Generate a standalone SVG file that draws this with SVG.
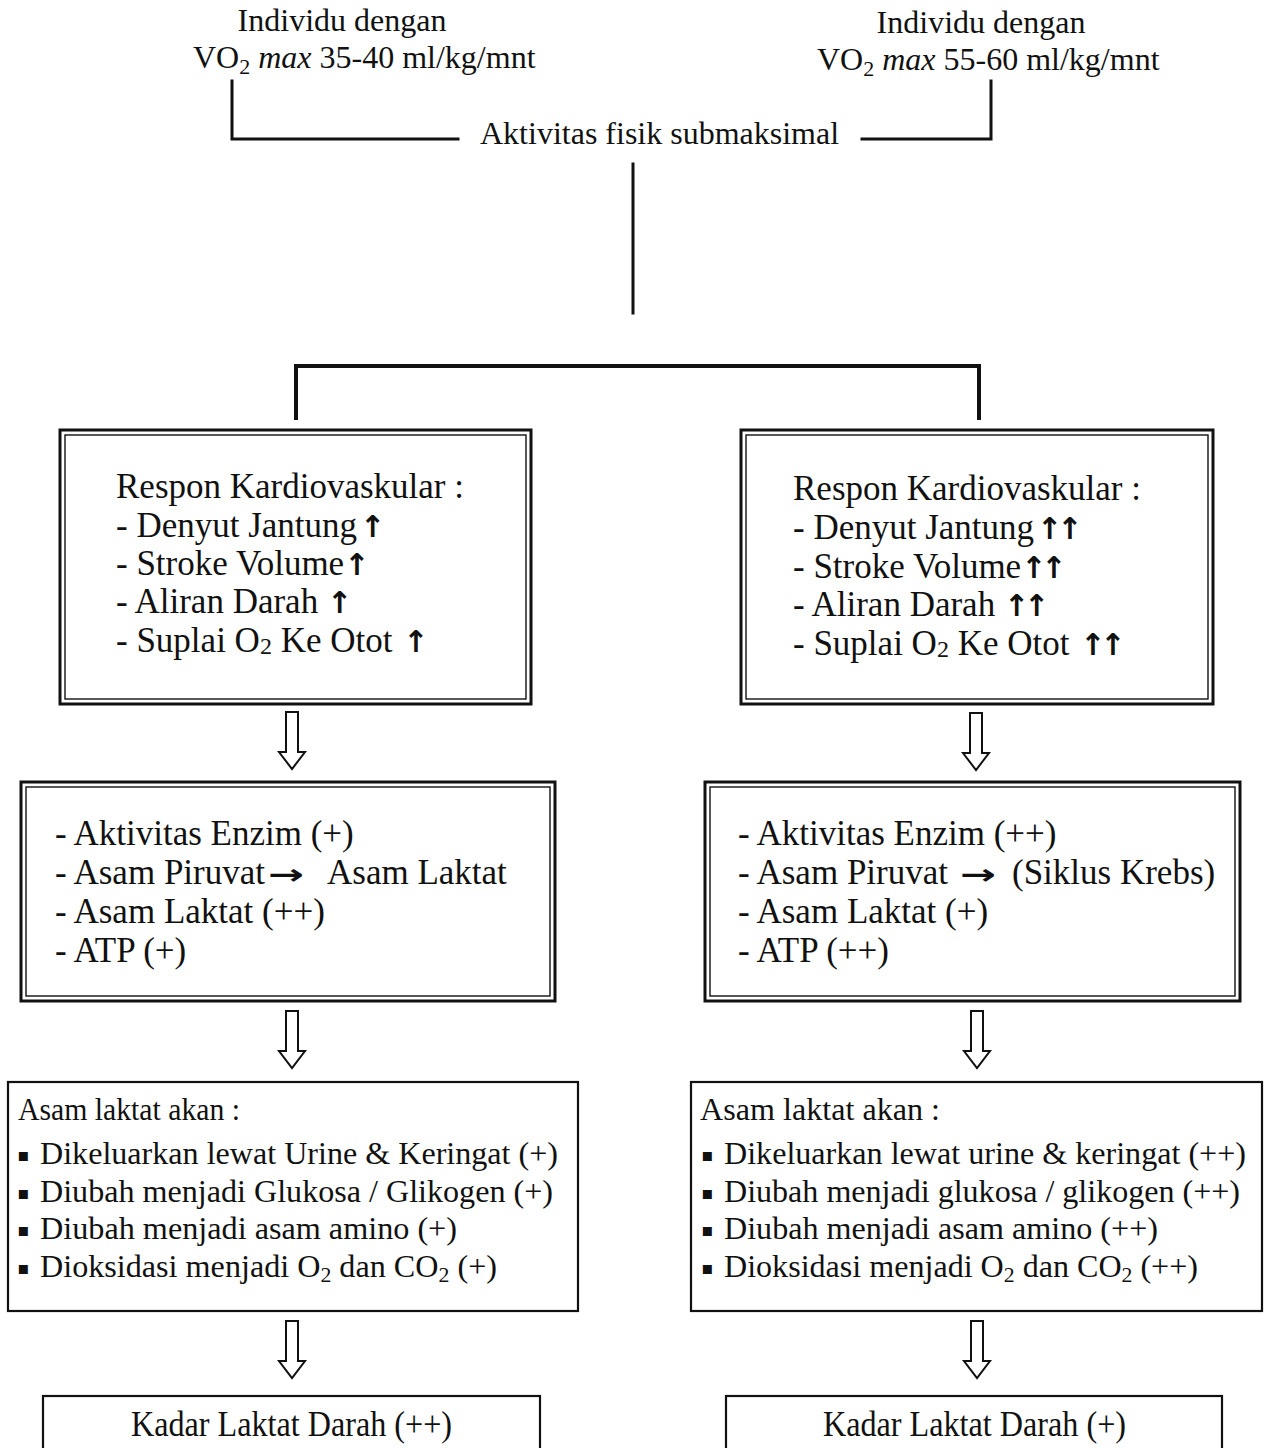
<svg xmlns="http://www.w3.org/2000/svg" width="1265" height="1448" viewBox="0 0 1265 1448">
<style>
  text { font-family: "Liberation Serif", "Times New Roman", serif; fill: #111; }
  .top { font-size: 32px; }
  .bx { font-size: 35px; }
  .sm { font-size: 31px; }
  .sym { font-family: "DejaVu Sans", sans-serif; }
  .up { font-family: "DejaVu Sans", sans-serif; font-size: 30px; font-weight: bold; letter-spacing: -5px; }
  .rt { font-family: "DejaVu Sans", sans-serif; font-size: 28px; font-weight: bold; }
  .line { stroke: #111; stroke-width: 3; fill: none; stroke-linecap: square; }
  .outer { fill: #fff; stroke: #111; stroke-width: 3; }
  .inner { fill: none; stroke: #111; stroke-width: 1.4; }
  .single { fill: #fff; stroke: #111; stroke-width: 2.2; }
  .blk { fill: #fff; stroke: #111; stroke-width: 2; stroke-linejoin: miter; }
</style>
<defs>
  <path id="blockArrow" d="M -6 0 H 6 V 40 H 13 L 0 57 L -13 40 H -6 Z"/>
</defs>
<rect width="1265" height="1448" fill="#fff"/>

<g id="connectors">
  <path class="line" d="M 232 81 V 139 H 458"/>
  <path class="line" d="M 862 139 H 991 V 81"/>
  <path class="line" d="M 633 164 V 313"/>
  <path class="line" style="stroke-width:4" d="M 296 418 V 366 H 979 V 418"/>
  <use href="#blockArrow" class="blk" x="292" y="712"/>
  <use href="#blockArrow" class="blk" x="976" y="713"/>
  <use href="#blockArrow" class="blk" x="292" y="1011"/>
  <use href="#blockArrow" class="blk" x="977" y="1011"/>
  <use href="#blockArrow" class="blk" x="292" y="1321"/>
  <use href="#blockArrow" class="blk" x="977" y="1321"/>
</g>

<g id="node-individu-left">
  <text class="top" x="342" y="31" text-anchor="middle">Individu dengan</text>
  <text class="top" x="193" y="68">VO<tspan font-size="22" dy="6">2</tspan><tspan dy="-6"> </tspan><tspan font-style="italic">max</tspan> 35-40 ml/kg/mnt</text>
</g>

<g id="node-individu-right">
  <text class="top" x="981" y="33" text-anchor="middle">Individu dengan</text>
  <text class="top" x="817" y="70">VO<tspan font-size="22" dy="6">2</tspan><tspan dy="-6"> </tspan><tspan font-style="italic">max</tspan> 55-60 ml/kg/mnt</text>
</g>

<g id="node-aktivitas">
  <text class="top" x="480" y="144">Aktivitas fisik submaksimal</text>
</g>

<g id="node-kardio-left">
  <rect class="outer" x="60" y="430" width="471" height="274"/>
  <rect class="inner" x="65" y="435" width="461" height="264"/>
  <text class="bx" x="116" y="498">Respon Kardiovaskular :</text>
  <text class="bx" x="116" y="537">- Denyut Jantung<tspan class="up" dx="3">↑</tspan></text>
  <text class="bx" x="116" y="575">- Stroke Volume<tspan class="up">↑</tspan></text>
  <text class="bx" x="116" y="613">- Aliran Darah <tspan class="up">↑</tspan></text>
  <text class="bx" x="116" y="652">- Suplai O<tspan font-size="24" dy="2">2</tspan><tspan dy="-2"> Ke Otot </tspan><tspan class="up" dx="2">↑</tspan></text>
</g>

<g id="node-kardio-right">
  <rect class="outer" x="741" y="430" width="472" height="274"/>
  <rect class="inner" x="746" y="435" width="462" height="264"/>
  <text class="bx" x="793" y="500">Respon Kardiovaskular :</text>
  <text class="bx" x="793" y="539">- Denyut Jantung<tspan class="up" dx="3">↑↑</tspan></text>
  <text class="bx" x="793" y="578">- Stroke Volume<tspan class="up">↑↑</tspan></text>
  <text class="bx" x="793" y="616">- Aliran Darah <tspan class="up">↑↑</tspan></text>
  <text class="bx" x="793" y="655">- Suplai O<tspan font-size="24" dy="2">2</tspan><tspan dy="-2"> Ke Otot </tspan><tspan class="up" dx="2">↑↑</tspan></text>
</g>

<g id="node-enzim-left">
  <rect class="outer" x="21" y="782" width="534" height="219"/>
  <rect class="inner" x="26" y="787" width="524" height="209"/>
  <text class="bx" x="55" y="845">- Aktivitas Enzim (+)</text>
  <text class="bx" x="55" y="884">- Asam Piruvat<tspan x="327">Asam Laktat</tspan></text>
  <text class="rt" x="268" y="884" textLength="36" lengthAdjust="spacingAndGlyphs">→</text>
  <text class="bx" x="55" y="923">- Asam Laktat (++)</text>
  <text class="bx" x="55" y="962">- ATP (+)</text>
</g>

<g id="node-enzim-right">
  <rect class="outer" x="705" y="782" width="535" height="219"/>
  <rect class="inner" x="710" y="787" width="525" height="209"/>
  <text class="bx" x="738" y="845">- Aktivitas Enzim (++)</text>
  <text class="bx" x="738" y="884">- Asam Piruvat<tspan x="1012">(Siklus Krebs)</tspan></text>
  <text class="rt" x="960" y="884" textLength="36" lengthAdjust="spacingAndGlyphs">→</text>
  <text class="bx" x="738" y="923">- Asam Laktat (+)</text>
  <text class="bx" x="738" y="962">- ATP (++)</text>
</g>

<g id="node-laktat-left">
  <rect class="single" x="8" y="1082" width="570" height="229"/>
  <text class="sm" x="18" y="1120" textLength="222" lengthAdjust="spacingAndGlyphs">Asam laktat akan :</text>
  <text class="sym" font-size="18" x="17" y="1161">▪</text>
  <text class="sm" x="40" y="1164" textLength="518" lengthAdjust="spacingAndGlyphs">Dikeluarkan lewat Urine &amp; Keringat (+)</text>
  <text class="sym" font-size="18" x="17" y="1199">▪</text>
  <text class="sm" x="40" y="1202" textLength="513" lengthAdjust="spacingAndGlyphs">Diubah menjadi Glukosa / Glikogen (+)</text>
  <text class="sym" font-size="18" x="17" y="1236">▪</text>
  <text class="sm" x="40" y="1239" textLength="417" lengthAdjust="spacingAndGlyphs">Diubah menjadi asam amino (+)</text>
  <text class="sym" font-size="18" x="17" y="1274">▪</text>
  <text class="sm" x="40" y="1277" textLength="457" lengthAdjust="spacingAndGlyphs">Dioksidasi menjadi O<tspan font-size="21" dy="5">2</tspan><tspan dy="-5"> dan CO</tspan><tspan font-size="21" dy="5">2</tspan><tspan dy="-5"> (+)</tspan></text>
</g>

<g id="node-laktat-right">
  <rect class="single" x="691" y="1082" width="571" height="229"/>
  <text class="sm" x="700" y="1120" textLength="240" lengthAdjust="spacingAndGlyphs">Asam laktat akan :</text>
  <text class="sym" font-size="18" x="701" y="1161">▪</text>
  <text class="sm" x="724" y="1164" textLength="522" lengthAdjust="spacingAndGlyphs">Dikeluarkan lewat urine &amp; keringat (++)</text>
  <text class="sym" font-size="18" x="701" y="1199">▪</text>
  <text class="sm" x="724" y="1202" textLength="516" lengthAdjust="spacingAndGlyphs">Diubah menjadi glukosa / glikogen (++)</text>
  <text class="sym" font-size="18" x="701" y="1236">▪</text>
  <text class="sm" x="724" y="1239" textLength="434" lengthAdjust="spacingAndGlyphs">Diubah menjadi asam amino (++)</text>
  <text class="sym" font-size="18" x="701" y="1274">▪</text>
  <text class="sm" x="724" y="1277" textLength="474" lengthAdjust="spacingAndGlyphs">Dioksidasi menjadi O<tspan font-size="21" dy="5">2</tspan><tspan dy="-5"> dan CO</tspan><tspan font-size="21" dy="5">2</tspan><tspan dy="-5"> (++)</tspan></text>
</g>

<g id="node-kadar-left">
  <rect class="single" x="43" y="1396" width="497" height="80"/>
  <text class="bx" x="131" y="1436" textLength="321" lengthAdjust="spacingAndGlyphs">Kadar Laktat Darah (++)</text>
</g>

<g id="node-kadar-right">
  <rect class="single" x="726" y="1396" width="496" height="80"/>
  <text class="bx" x="823" y="1436" textLength="303" lengthAdjust="spacingAndGlyphs">Kadar Laktat Darah (+)</text>
</g>
</svg>
